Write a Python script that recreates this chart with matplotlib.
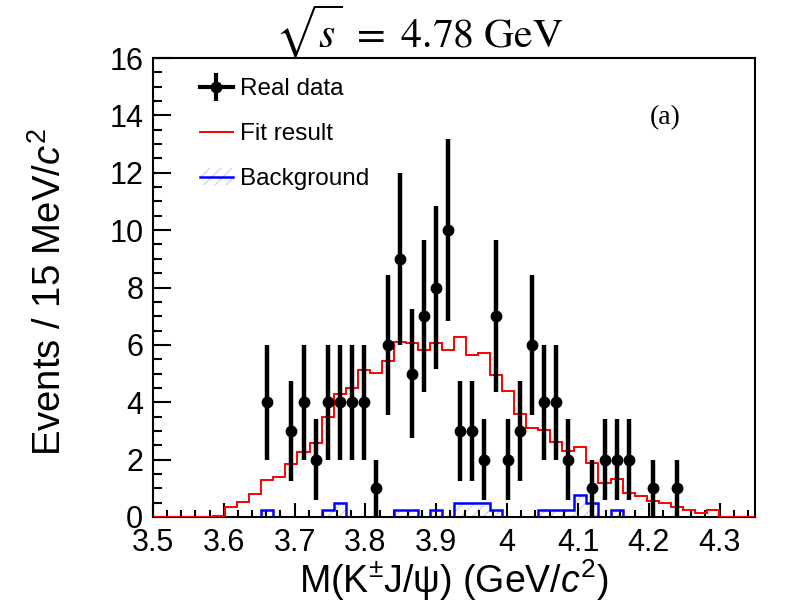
import numpy as np
import matplotlib
matplotlib.use('Agg')
import matplotlib.pyplot as plt
from matplotlib.ticker import MultipleLocator, FuncFormatter
from matplotlib.lines import Line2D
from matplotlib.patches import Patch
from matplotlib.legend_handler import HandlerTuple

plt.rcParams['font.family'] = ['Liberation Sans', 'DejaVu Sans']
plt.rcParams['mathtext.fontset'] = 'custom'
plt.rcParams['mathtext.rm'] = 'Liberation Sans'
plt.rcParams['mathtext.it'] = 'Liberation Sans:italic'
plt.rcParams['hatch.linewidth'] = 1.0

# Histogram binning: 50 bins between 3.5 and 4.35 GeV/c^2
x_min, x_max, n_bins = 3.5, 4.35, 50

# Real data counts per bin
data_counts = [0, 0, 0, 0, 0, 0, 0, 0, 0, 4,
               0, 3, 4, 2, 4, 4, 4, 4, 1, 6,
               9, 5, 7, 8, 10, 3, 3, 2, 7, 2,
               3, 6, 4, 4, 2, 0, 1, 2, 2, 2,
               0, 1, 0, 1, 0, 0, 0, 0, 0, 0]

# Fit result per bin
fit_counts = [0, 0, 0, 0, 0, 0.05, 0.36, 0.53, 0.79, 1.29,
              1.40, 1.85, 2.28, 2.59, 3.50, 4.29, 4.48, 5.12, 5.01, 5.45,
              6.11, 6.07, 5.82, 6.05, 5.82, 6.28, 5.64, 5.70, 4.95, 4.39,
              3.58, 3.09, 3.03, 2.62, 2.30, 2.45, 1.89, 1.20, 1.31, 0.85,
              0.73, 0.56, 0.48, 0.36, 0.24, 0.13, 0.24, 0, 0, 0]

# Background per bin
bkg_counts = [0, 0, 0, 0, 0, 0, 0, 0, 0, 0.25,
              0, 0, 0, 0, 0.25, 0.5, 0, 0, 0, 0,
              0.25, 0.25, 0, 0.25, 0, 0.5, 0.5, 0.5, 0.25, 0,
              0, 0, 0.25, 0.25, 0.25, 0.75, 0.5, 0, 0.25, 0,
              0, 0, 0, 0, 0, 0, 0, 0, 0, 0]

edges = np.linspace(x_min, x_max, n_bins + 1)
centers = 0.5 * (edges[:-1] + edges[1:])
data = np.array(data_counts, dtype=float)
mask = data > 0

fig = plt.figure(figsize=(7.85, 6.03), dpi=100)
ax = fig.add_axes([153/785, 1 - 517/603, 602/785, 459/603])

# Background: faint hatch + blue outline
ax.stairs(bkg_counts, edges, fill=True, facecolor='none', edgecolor='#cdd5f5',
          hatch='///', lw=0, zorder=1)
ax.stairs(bkg_counts, edges, color='#0000ff', lw=1.8, zorder=2)

# Fit result
ax.stairs(fit_counts, edges, color='#ff0000', lw=1.4, zorder=3)

# Real data
ax.errorbar(centers[mask], data[mask], yerr=np.sqrt(data[mask]), fmt='o',
            color='black', ms=7.5, elinewidth=3.2, capsize=0, zorder=4)

ax.set_xlim(x_min, x_max)
ax.set_ylim(0, 16)

ax.xaxis.set_major_locator(MultipleLocator(0.1))
ax.xaxis.set_minor_locator(MultipleLocator(0.02))
ax.yaxis.set_major_locator(MultipleLocator(2))
ax.yaxis.set_minor_locator(MultipleLocator(0.5))
ax.xaxis.set_major_formatter(FuncFormatter(lambda v, p: '%g' % round(v, 2)))

ax.tick_params(axis='both', which='both', direction='in', top=False, right=False,
               labelsize=22, width=1.5)
ax.tick_params(axis='x', which='major', length=10, pad=8)
ax.tick_params(axis='x', which='minor', length=5)
ax.tick_params(axis='y', which='major', length=13, pad=7)
ax.tick_params(axis='y', which='minor', length=6.5)
for s in ax.spines.values():
    s.set_linewidth(1.5)

ax.set_xlabel('M(K$^{\\pm}$J/ψ) (GeV/$c^2$)', fontsize=27)
ax.set_ylabel('Events / 15 MeV/$c^2$', fontsize=27.5)
ax.xaxis.set_label_coords(0.5, -0.088)
ax.yaxis.set_label_coords(-0.14, 0.489)

# Title and panel tag
fig.text(419/785, 1 - 48/603, r'$\sqrt{s}\ =\ 4.78\ \mathrm{GeV}$', ha='center',
         va='baseline', fontsize=30, math_fontfamily='stix')
fig.text(665/785, 1 - 118/603, '(a)', ha='center', va='center',
         fontsize=20, family='Liberation Serif')

# Legend
h_data = (Line2D([], [], color='black', lw=3, marker='o', ms=7.5),
          Line2D([], [], color='black', ls='none', marker='|', ms=20, mew=3))
h_fit = Line2D([], [], color='#ff0000', lw=1.4)
h_bkg = (Patch(facecolor='none', edgecolor='#cdd5f5', hatch='///', lw=0),
         Line2D([], [], color='#0000ff', lw=1.8))
ax.legend([h_data, h_fit, h_bkg], ['Real data', 'Fit result', 'Background'],
          handler_map={tuple: HandlerTuple(ndivide=1, pad=0)},
          loc='upper left', bbox_to_anchor=(200/785, 1 - 78/603),
          bbox_transform=fig.transFigure, frameon=False, fontsize=17.5,
          handlelength=1.35, handletextpad=0.3, labelspacing=0.95,
          borderpad=0, borderaxespad=0)

fig.savefig('out.png', dpi=100)
